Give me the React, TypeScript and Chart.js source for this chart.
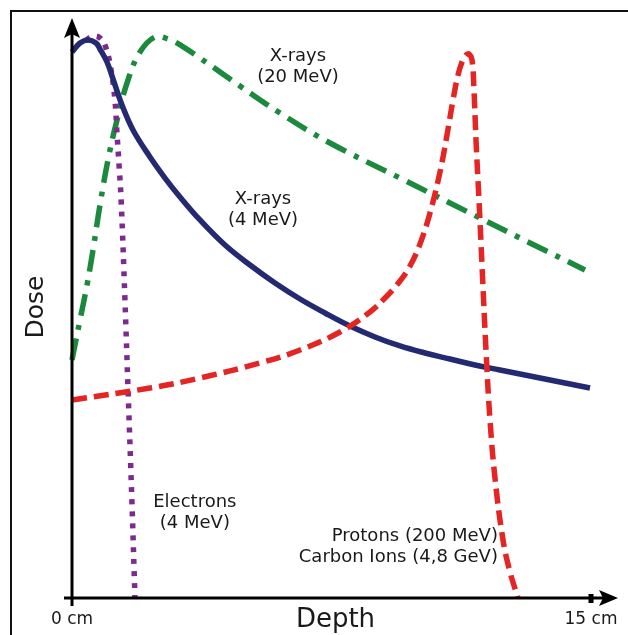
import React, { useEffect, useRef } from "react";
import { Chart, registerables } from "chart.js";

Chart.register(...registerables);

// Depth in cm, dose in relative units (0-100)
const xrays4Depth = [0, 0.231, 0.462, 0.694, 0.809, 1.012, 1.214, 1.445, 1.763, 2.254, 2.688, 3.121, 3.699, 4.422, 5.145, 5.867, 6.59, 7.312, 8.035, 8.757, 9.48, 10.202, 10.925, 11.647, 12.37, 13.526, 14.971];
const xrays4Dose = [94.46, 96.02, 96.54, 96.02, 94.98, 92.73, 89.27, 85.29, 80.97, 76.3, 72.66, 69.38, 65.4, 61.07, 57.61, 54.5, 51.73, 49.31, 47.06, 45.16, 43.6, 42.39, 41.35, 40.31, 39.45, 38.06, 36.33];

const protonDepth = [0, 2.254, 3.699, 5.434, 6.59, 7.746, 8.613, 9.046, 9.48, 9.769, 10.058, 10.347, 10.636, 10.838, 11.012, 11.156, 11.272, 11.387, 11.474, 11.561, 11.618, 11.676, 11.763, 11.85, 11.965, 12.081, 12.225, 12.457, 12.659, 12.89];
const protonDose = [34.26, 36.33, 38.06, 40.66, 42.91, 46.02, 49.48, 51.9, 54.84, 57.44, 61.25, 66.61, 73.7, 80.1, 86.16, 90.48, 92.73, 93.94, 94.12, 93.08, 87.89, 79.24, 68.86, 57.61, 42.91, 30.8, 20.76, 10.03, 4.5, 0];

const xrays20Depth = [0, 0.231, 0.434, 0.607, 0.809, 1.04, 1.301, 1.618, 1.965, 2.399, 2.775, 3.179, 3.699, 4.277, 4.855, 6.012, 7.457, 9.48, 11.792, 13.237, 14.827];
const xrays20Dose = [41.18, 48.1, 54.15, 60.21, 67.99, 75.78, 82.7, 89.62, 94.46, 97.06, 96.71, 95.5, 93.43, 91.0, 88.58, 83.91, 78.72, 72.66, 65.74, 61.42, 56.75];

const electronDepth = [0.4, 0.61, 0.81, 0.98, 1.13, 1.24, 1.3, 1.36, 1.42, 1.53, 1.62, 1.73, 1.82];
const electronDose = [96.5, 97.2, 96.9, 95.2, 91.3, 86.2, 80.4, 74.9, 68.9, 51.6, 36.0, 17.0, 0];

const xMin = 0;
const xMax = 15;
const xTickLabels = ["0 cm", "15 cm"];
const xTickValues = [0, 15];
const xAxisTitle = "Depth";
const yAxisTitle = "Dose";

// curve labels: lines, anchor depth, anchor dose (first line centre), alignment
const labelLines = [
  ["X-rays", "(20 MeV)"],
  ["X-rays", "(4 MeV)"],
  ["Electrons", "(4 MeV)"],
  ["Protons (200 MeV)", "Carbon Ions (4,8 GeV)"],
];
const labelDepth = [6.53, 5.52, 3.55, 12.31];
const labelDose = [93.8, 68.9, 16.6, 10.6];
const labelAlign = ["center", "center", "center", "right"];

const pts = (xs: number[], ys: number[]) => xs.map((x, i) => ({ x, y: ys[i] }));

const overlay = {
  id: "overlay",
  afterDatasetsDraw(chart: any) {
    const { ctx, chartArea: a, scales } = chart;
    const sx = scales.x;
    const sy = scales.y;
    const x0 = sx.getPixelForValue(0);
    const y0 = sy.getPixelForValue(0);
    const xEnd = sx.getPixelForValue(15);
    ctx.save();
    // frame (cropped border)
    ctx.strokeStyle = "#111";
    ctx.lineWidth = 2;
    ctx.beginPath();
    ctx.moveTo(11, 640);
    ctx.lineTo(11, 11);
    ctx.lineTo(640, 11);
    ctx.stroke();

    // axes
    ctx.strokeStyle = "#000";
    ctx.fillStyle = "#000";
    ctx.lineWidth = 3;
    ctx.beginPath();
    ctx.moveTo(x0, y0 + 8);
    ctx.lineTo(x0, a.top + 14);
    ctx.stroke();
    ctx.beginPath();
    ctx.moveTo(x0, a.top - 2);
    ctx.lineTo(x0 + 8, a.top + 18);
    ctx.lineTo(x0, a.top + 14);
    ctx.lineTo(x0 - 8, a.top + 18);
    ctx.closePath();
    ctx.fill();

    ctx.beginPath();
    ctx.moveTo(x0 - 8, y0);
    ctx.lineTo(xEnd + 12, y0);
    ctx.stroke();
    ctx.beginPath();
    ctx.moveTo(xEnd + 27, y0);
    ctx.lineTo(xEnd + 8, y0 - 8);
    ctx.lineTo(xEnd + 12, y0);
    ctx.lineTo(xEnd + 8, y0 + 8);
    ctx.closePath();
    ctx.fill();
    ctx.fillRect(xEnd - 2.5, y0 - 4, 5, 9);

    // tick labels
    ctx.fillStyle = "#1a1a1a";
    ctx.font = '17px "DejaVu Sans"';
    ctx.textAlign = "center";
    ctx.textBaseline = "middle";
    xTickValues.forEach((v, i) => {
      ctx.fillText(xTickLabels[i], sx.getPixelForValue(v), y0 + 22);
    });

    // axis titles
    ctx.font = '26px "DejaVu Sans"';
    ctx.textBaseline = "alphabetic";
    ctx.fillText(xAxisTitle, (x0 + xEnd) / 2 + 4, y0 + 29);
    ctx.save();
    ctx.translate(43, (a.top + y0) / 2 - 2);
    ctx.rotate(-Math.PI / 2);
    ctx.font = '25px "DejaVu Sans"';
    ctx.fillText(yAxisTitle, 0, 0);
    ctx.restore();

    // curve labels
    ctx.font = '18px "DejaVu Sans"';
    ctx.textBaseline = "middle";
    labelLines.forEach((lines, i) => {
      const px = sx.getPixelForValue(labelDepth[i]);
      const py = sy.getPixelForValue(labelDose[i]);
      ctx.textAlign = labelAlign[i] as CanvasTextAlign;
      lines.forEach((t, j) => ctx.fillText(t, px, py + j * 21));
    });
    ctx.restore();
  },
};

export default function App() {
  const ref = useRef<HTMLCanvasElement>(null);
  useEffect(() => {
    if (!ref.current) return;
    const common = {
      pointRadius: 0,
      borderWidth: 5.5,
      fill: false,
      showLine: true,
      tension: 0.4,
      clip: false as any,
      borderCapStyle: "butt" as const,
      borderJoinStyle: "round" as const,
    };
    const chart = new Chart(ref.current, {
      type: "scatter",
      data: {
        datasets: [
          { ...common, label: "Protons", data: pts(protonDepth, protonDose), borderColor: "#e52424", borderDash: [15, 7] },
          { ...common, label: "X-rays 4 MeV", data: pts(xrays4Depth, xrays4Dose), borderColor: "#232a72" },
          { ...common, label: "Electrons", data: pts(electronDepth, electronDose), borderColor: "#7d2a8f", borderDash: [5, 7] },
          { ...common, label: "X-rays 20 MeV", data: pts(xrays20Depth, xrays20Dose), borderColor: "#1b8a3d", borderDash: [22, 9, 5, 9] },
        ],
      },
      options: {
        responsive: false,
        devicePixelRatio: 1,
        animation: false,
        events: [],
        layout: { padding: { left: 72, right: 37, top: 20, bottom: 37 } },
        scales: {
          x: { type: "linear", min: xMin, max: xMax, display: false },
          y: { type: "linear", min: 0, max: 100, display: false },
        },
        plugins: { legend: { display: false }, tooltip: { enabled: false }, title: { display: false } },
      },
      plugins: [overlay],
    });
    return () => chart.destroy();
  }, []);
  return (
    <div style={{ position: "absolute", left: 0, top: 0, width: 628, height: 635, background: "#fff" }}>
      <canvas ref={ref} width={628} height={635} style={{ display: "block", width: 628, height: 635 }} />
    </div>
  );
}
